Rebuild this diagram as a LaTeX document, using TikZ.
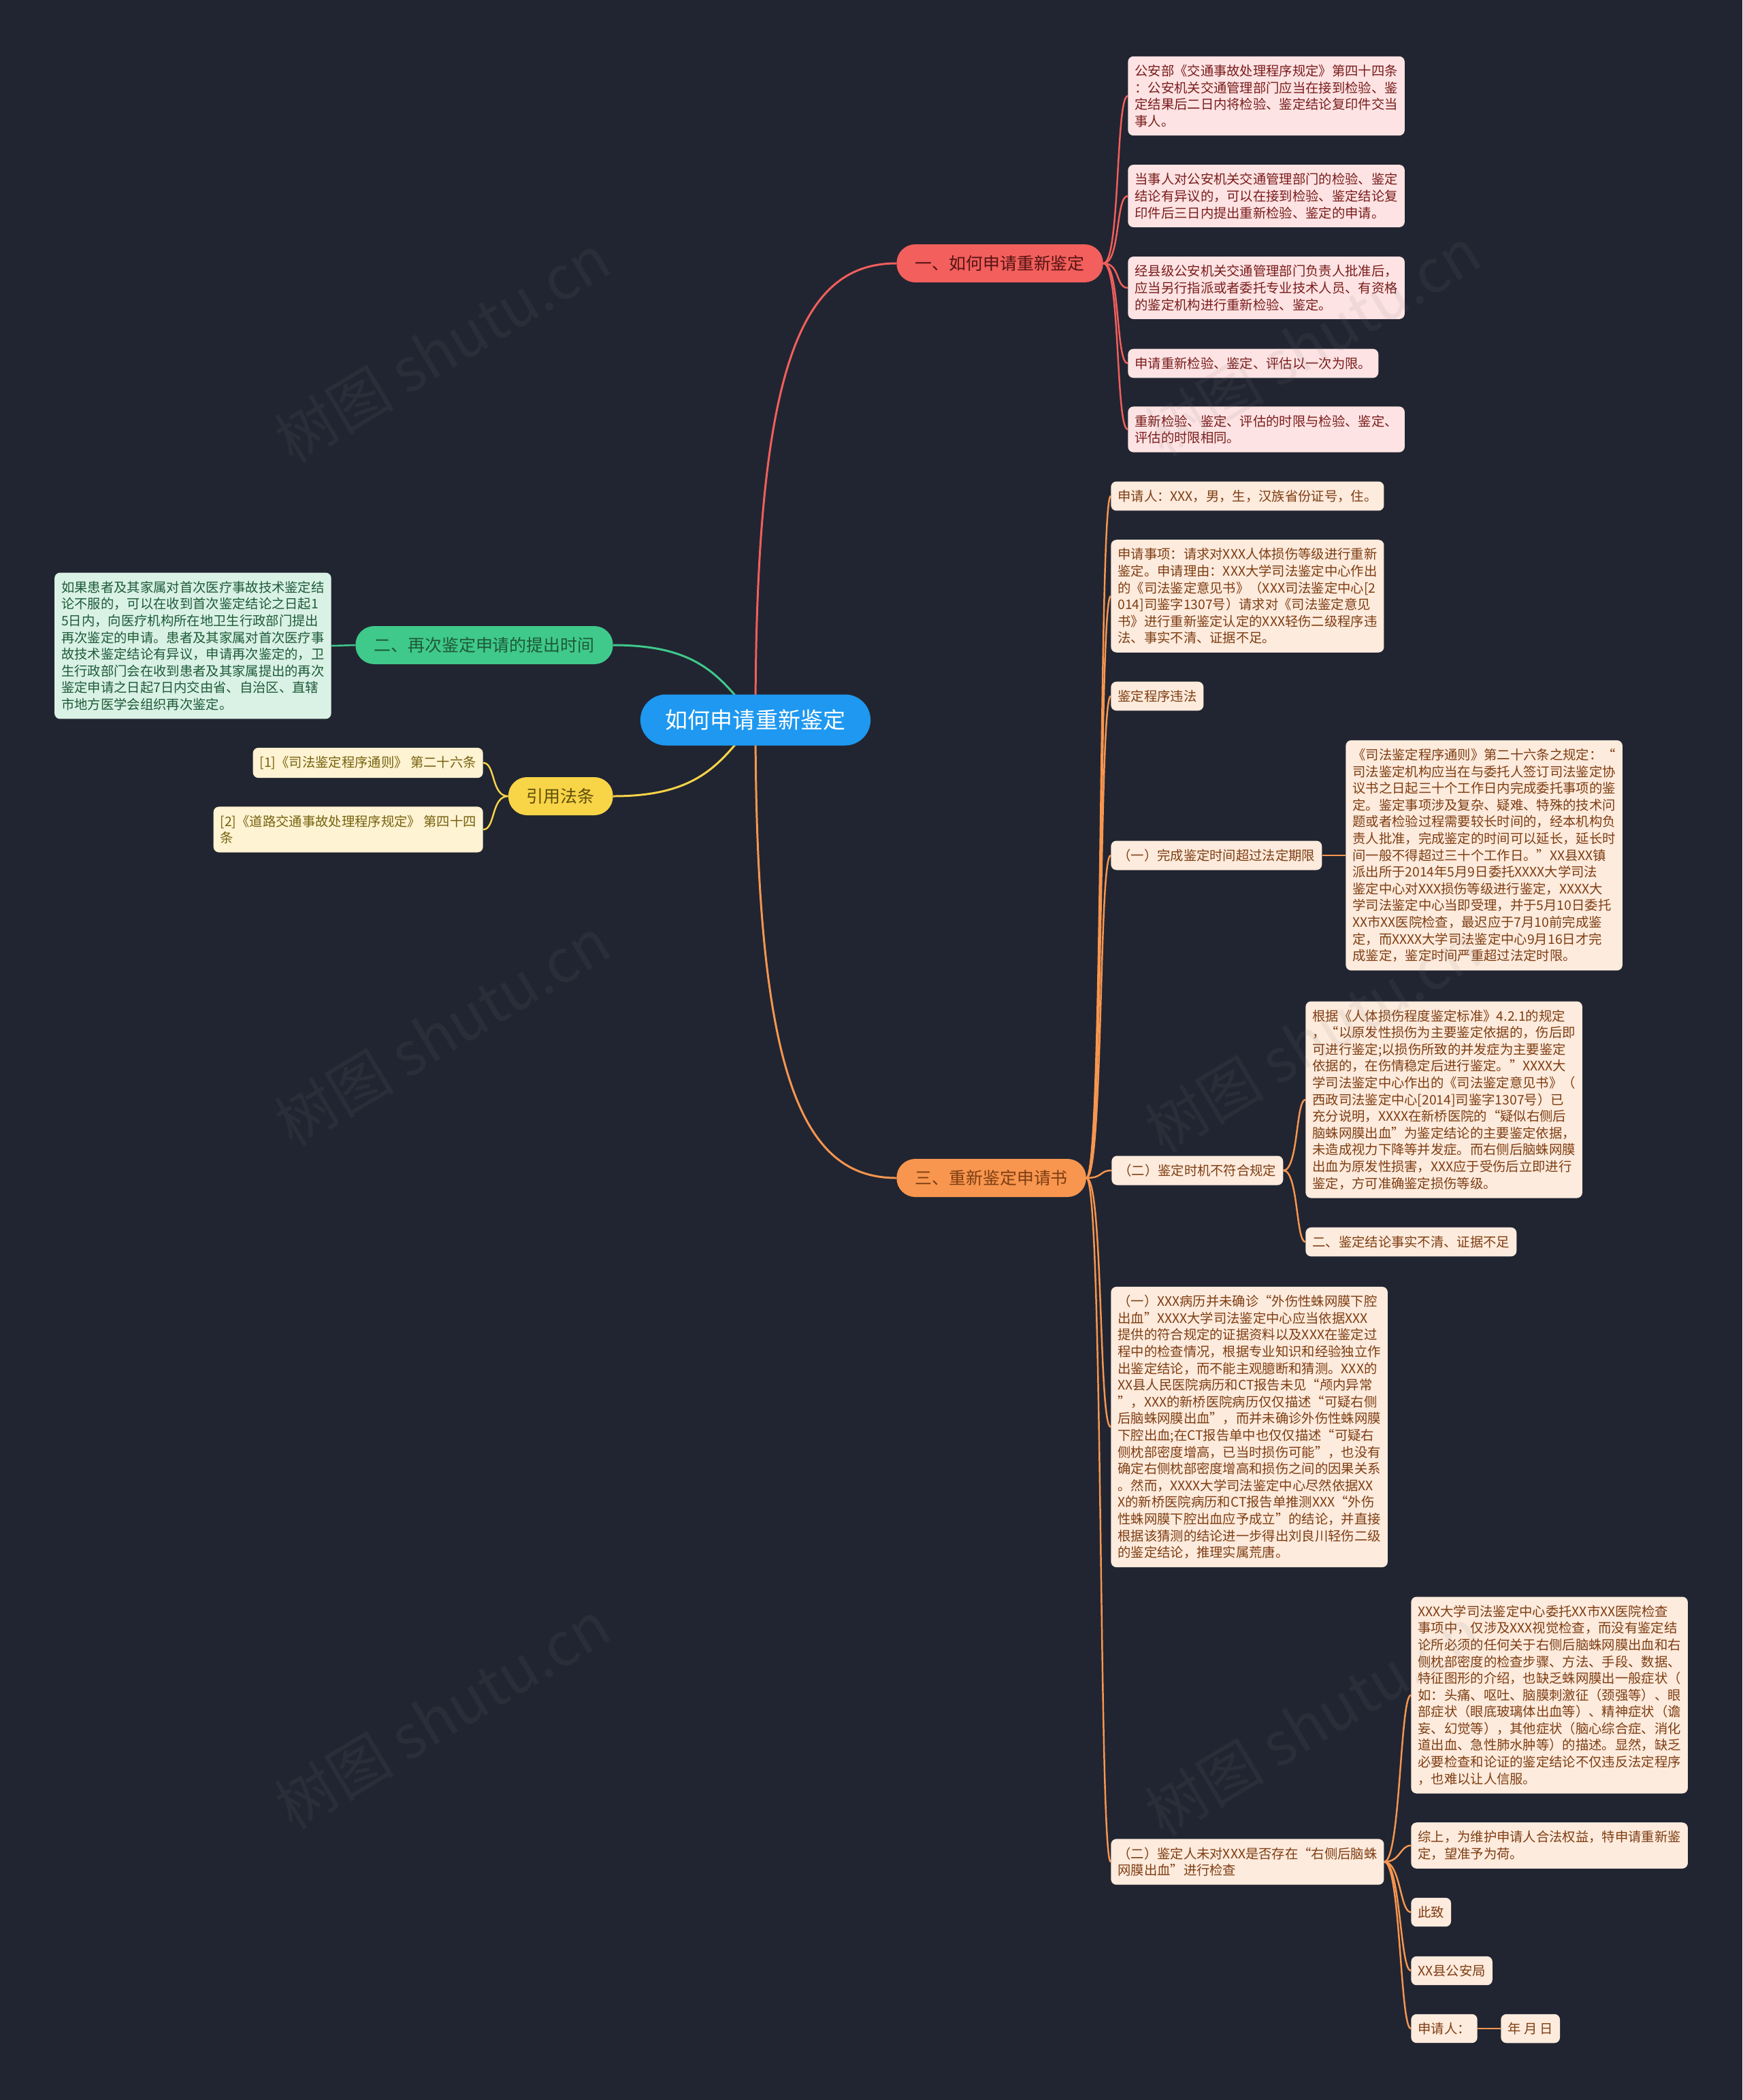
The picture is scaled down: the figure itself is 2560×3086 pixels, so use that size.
\documentclass[tikz,border=0pt]{standalone}
\usepackage{fontspec}
\newfontfamily\cjk{Noto Sans CJK SC}
\usetikzlibrary{backgrounds}

\definecolor{mapBg}{HTML}{212531}
\definecolor{mapBlue}{HTML}{1E98F0}
\definecolor{mapRed}{HTML}{F25F5C}
\definecolor{mapRedLeaf}{HTML}{FDE3E3}
\definecolor{mapRedText}{HTML}{7A1C1C}
\definecolor{mapGreen}{HTML}{3FC98B}
\definecolor{mapGreenLeaf}{HTML}{D9F2E5}
\definecolor{mapGreenText}{HTML}{1E5A38}
\definecolor{mapYellow}{HTML}{F8D447}
\definecolor{mapYellowLeaf}{HTML}{FEF3D2}
\definecolor{mapYellowText}{HTML}{76620E}
\definecolor{mapOrange}{HTML}{F8964F}
\definecolor{mapOrangeLeaf}{HTML}{FDEBDD}
\definecolor{mapOrangeText}{HTML}{7E3D12}

\begin{document}
\begin{tikzpicture}[x=0.02cm,y=-0.02cm,
  leaf/.style={rounded corners=0.16cm,align=left,anchor=west,inner xsep=0.2cm,inner ysep=7pt,font=\cjk\fontsize{11}{14}\selectfont},
  redleaf/.style={leaf,fill=mapRedLeaf,text=mapRedText},
  greenleaf/.style={leaf,fill=mapGreenLeaf,text=mapGreenText},
  yellowleaf/.style={leaf,fill=mapYellowLeaf,text=mapYellowText},
  orangeleaf/.style={leaf,fill=mapOrangeLeaf,text=mapOrangeText},
  branch/.style={rounded corners=0.55cm,minimum height=1.12cm,inner xsep=0.54cm,font=\cjk\fontsize{14.2}{17}\selectfont},
  mainlink/.style={line width=1.7pt},
  sublink/.style={line width=1.4pt},
  watermark/.style={rotate=31,text=gray,text opacity=0.1,font=\cjk\fontsize{50}{56}\selectfont}
]
  \path[use as bounding box] (0,0) rectangle (2560,3086);

  % root and main branches
  \node[fill=mapBlue,text=white,rounded corners=0.75cm,minimum height=1.5cm,inner xsep=0.74cm,font=\cjk\fontsize{18.8}{22}\selectfont] (root) at (1110,1058) {如何申请重新鉴定};
  \node[branch,fill=mapRed,text=mapRedText!70!black,anchor=west] (b1) at (1317,387) {一、如何申请重新鉴定};
  \node[branch,fill=mapGreen,text=mapGreenText,anchor=east] (b2) at (901,948) {二、再次鉴定申请的提出时间};
  \node[branch,fill=mapYellow,text=mapYellowText!80!black,anchor=east] (b3) at (901,1170) {引用法条};
  \node[branch,fill=mapOrange,text=mapOrangeText,anchor=west] (b4) at (1317,1731) {三、重新鉴定申请书};

  % branch one
  \node[redleaf] (r1) at (1657,141) {公安部《交通事故处理程序规定》第四十四条\\：公安机关交通管理部门应当在接到检验、鉴\\定结果后二日内将检验、鉴定结论复印件交当\\事人。};
  \node[redleaf] (r2) at (1657,288) {当事人对公安机关交通管理部门的检验、鉴定\\结论有异议的，可以在接到检验、鉴定结论复\\印件后三日内提出重新检验、鉴定的申请。};
  \node[redleaf] (r3) at (1657,423) {经县级公安机关交通管理部门负责人批准后，\\应当另行指派或者委托专业技术人员、有资格\\的鉴定机构进行重新检验、鉴定。};
  \node[redleaf] (r4) at (1657,534) {申请重新检验、鉴定、评估以一次为限。};
  \node[redleaf] (r5) at (1657,631) {重新检验、鉴定、评估的时限与检验、鉴定、\\评估的时限相同。};

  % branch two and citations
  \node[greenleaf,anchor=east] (g1) at (487,949) {如果患者及其家属对首次医疗事故技术鉴定结\\论不服的，可以在收到首次鉴定结论之日起1\\5日内，向医疗机构所在地卫生行政部门提出\\再次鉴定的申请。患者及其家属对首次医疗事\\故技术鉴定结论有异议，申请再次鉴定的，卫\\生行政部门会在收到患者及其家属提出的再次\\鉴定申请之日起7日内交由省、自治区、直辖\\市地方医学会组织再次鉴定。};
  \node[yellowleaf,anchor=east] (y1) at (710,1121) {[1]《司法鉴定程序通则》 第二十六条};
  \node[yellowleaf,anchor=east] (y2) at (710,1219) {[2]《道路交通事故处理程序规定》 第四十四\\条};

  % branch three
  \node[orangeleaf] (o1) at (1632,729) {申请人：XXX，男，生，汉族省份证号，住。};
  \node[orangeleaf] (o2) at (1632,876) {申请事项：请求对XXX人体损伤等级进行重新\\鉴定。申请理由：XXX大学司法鉴定中心作出\\的《司法鉴定意见书》（XXX司法鉴定中心[2\\014]司鉴字1307号）请求对《司法鉴定意见\\书》进行重新鉴定认定的XXX轻伤二级程序违\\法、事实不清、证据不足。};
  \node[orangeleaf] (o3) at (1632,1023) {鉴定程序违法};
  \node[orangeleaf] (o4) at (1632,1257) {（一）完成鉴定时间超过法定期限};
  \node[orangeleaf] (o4a) at (1977,1257) {《司法鉴定程序通则》第二十六条之规定：“\\司法鉴定机构应当在与委托人签订司法鉴定协\\议书之日起三十个工作日内完成委托事项的鉴\\定。鉴定事项涉及复杂、疑难、特殊的技术问\\题或者检验过程需要较长时间的，经本机构负\\责人批准，完成鉴定的时间可以延长，延长时\\间一般不得超过三十个工作日。”XX县XX镇\\派出所于2014年5月9日委托XXXX大学司法\\鉴定中心对XXX损伤等级进行鉴定，XXXX大\\学司法鉴定中心当即受理，并于5月10日委托\\XX市XX医院检查，最迟应于7月10前完成鉴\\定，而XXXX大学司法鉴定中心9月16日才完\\成鉴定，鉴定时间严重超过法定时限。};
  \node[orangeleaf] (o5) at (1633,1720) {（二）鉴定时机不符合规定};
  \node[orangeleaf] (o5a) at (1918,1616) {根据《人体损伤程度鉴定标准》4.2.1的规定\\，“以原发性损伤为主要鉴定依据的，伤后即\\可进行鉴定;以损伤所致的并发症为主要鉴定\\依据的，在伤情稳定后进行鉴定。”XXXX大\\学司法鉴定中心作出的《司法鉴定意见书》（\\西政司法鉴定中心[2014]司鉴字1307号）已\\充分说明，XXXX在新桥医院的“疑似右侧后\\脑蛛网膜出血”为鉴定结论的主要鉴定依据，\\未造成视力下降等并发症。而右侧后脑蛛网膜\\出血为原发性损害，XXX应于受伤后立即进行\\鉴定，方可准确鉴定损伤等级。};
  \node[orangeleaf] (o5b) at (1918,1825) {二、鉴定结论事实不清、证据不足};
  \node[orangeleaf] (o6) at (1632,2097) {（一）XXX病历并未确诊“外伤性蛛网膜下腔\\出血”XXXX大学司法鉴定中心应当依据XXX\\提供的符合规定的证据资料以及XXX在鉴定过\\程中的检查情况，根据专业知识和经验独立作\\出鉴定结论，而不能主观臆断和猜测。XXX的\\XX县人民医院病历和CT报告未见“颅内异常\\”，XXX的新桥医院病历仅仅描述“可疑右侧\\后脑蛛网膜出血”，而并未确诊外伤性蛛网膜\\下腔出血;在CT报告单中也仅仅描述“可疑右\\侧枕部密度增高，已当时损伤可能”，也没有\\确定右侧枕部密度增高和损伤之间的因果关系\\。然而，XXXX大学司法鉴定中心尽然依据XX\\X的新桥医院病历和CT报告单推测XXX“外伤\\性蛛网膜下腔出血应予成立”的结论，并直接\\根据该猜测的结论进一步得出刘良川轻伤二级\\的鉴定结论，推理实属荒唐。};
  \node[orangeleaf] (o7) at (1632,2736) {（二）鉴定人未对XXX是否存在“右侧后脑蛛\\网膜出血”进行检查};
  \node[orangeleaf] (o8) at (2073,2491) {XXX大学司法鉴定中心委托XX市XX医院检查\\事项中，仅涉及XXX视觉检查，而没有鉴定结\\论所必须的任何关于右侧后脑蛛网膜出血和右\\侧枕部密度的检查步骤、方法、手段、数据、\\特征图形的介绍，也缺乏蛛网膜出一般症状（\\如：头痛、呕吐、脑膜刺激征（颈强等）、眼\\部症状（眼底玻璃体出血等）、精神症状（谵\\妄、幻觉等），其他症状（脑心综合症、消化\\道出血、急性肺水肿等）的描述。显然，缺乏\\必要检查和论证的鉴定结论不仅违反法定程序\\，也难以让人信服。};
  \node[orangeleaf] (o9) at (2073,2712) {综上，为维护申请人合法权益，特申请重新鉴\\定，望准予为荷。};
  \node[orangeleaf] (o10) at (2073,2810) {此致};
  \node[orangeleaf] (o11) at (2073,2896) {XX县公安局};
  \node[orangeleaf] (o12) at (2073,2981) {申请人：};
  \node[orangeleaf] (o13) at (2205,2981) {年 月 日};

  \begin{pgfonlayer}{background}
    \fill[mapBg] (0,0) rectangle (2560,3086);
    % root to branches
    \draw[mainlink,mapRed] (root.center) .. controls +(0,-520) and +(-140,0) .. (b1.west);
    \draw[mainlink,mapOrange] (root.center) .. controls +(0,520) and +(-140,0) .. (b4.west);
    \draw[mainlink,mapGreen] (b2.east) .. controls +(130,0) and +(-50,-60) .. (root.center);
    \draw[mainlink,mapYellow] (b3.east) .. controls +(130,0) and +(-50,60) .. (root.center);
    % branches to leaves
    \foreach \k in {r1,r2,r3,r4,r5}
      \draw[sublink,mapRed] (b1.east) .. controls +(25,0) and +(-18,0) .. (\k.west);
    \draw[sublink,mapGreen] (b2.west) -- (g1.east);
    \foreach \k in {y1,y2}
      \draw[sublink,mapYellow] (b3.west) .. controls +(-25,0) and +(18,0) .. (\k.east);
    \foreach \k in {o1,o2,o3,o4,o5,o6,o7}
      \draw[sublink,mapOrange] (b4.east) .. controls +(25,0) and +(-18,0) .. (\k.west);
    \draw[sublink,mapOrange] (o4.east) -- (o4a.west);
    \foreach \k in {o5a,o5b}
      \draw[sublink,mapOrange] (o5.east) .. controls +(22,0) and +(-14,0) .. (\k.west);
    \foreach \k in {o8,o9,o10,o11,o12}
      \draw[sublink,mapOrange] (o7.east) .. controls +(24,0) and +(-16,0) .. (\k.west);
    \draw[sublink,mapOrange] (o12.east) -- (o13.west);
  \end{pgfonlayer}

  % watermark
  \foreach \wx/\wy in {650/512,1929/502,650/1516,1929/1526,650/2520,1929/2530}
    \node[watermark] at (\wx,\wy) {树图 shutu.cn};
\end{tikzpicture}
\end{document}
